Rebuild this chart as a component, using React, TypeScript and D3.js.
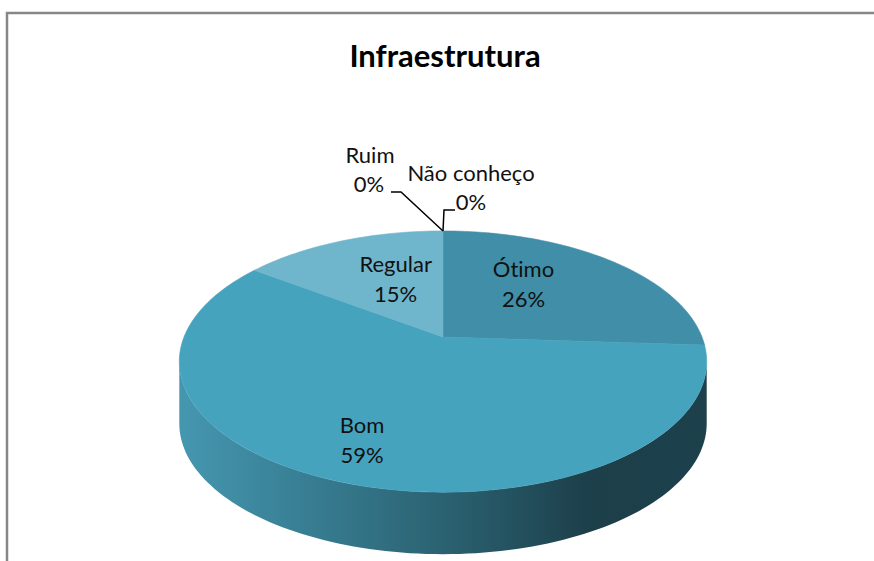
import { useEffect, useRef } from "react";
import * as d3 from "d3";

// Data
const categories = ["Ótimo", "Bom", "Regular", "Ruim", "Não conheço"];
const values = [26, 59, 15, 0, 0];
const title = "Infraestrutura";

const topColors = ["#408ea7", "#46a3bd", "#6fb5cb", "#5a9fc0", "#4f8fa8"];

// Layout of the pie (perspective-tilted disc)
const W = 874;
const H = 561;
const cx = 443;
const cy = 337;
const Rx = 259;
const Ry = 126;
const k = 0.188; // perspective factor (front bigger than back)
const depth = 62;

// label placement: inner labels are given by radius + angle (deg, clockwise from top)
const innerLabels: Record<string, { r: number; a: number }> = {
  "Ótimo": { r: 0.56, a: 37 },
  "Bom": { r: 0.765, a: 200.7 },
  "Regular": { r: 0.533, a: 338 },
};
// outside labels (zero slices) with leader lines, offsets from the apex of the slice
const outerLabels: Record<string, { elbow: [number, number]; end: [number, number]; tx: number; ty: number }> = {
  "Ruim": { elbow: [-42, -39], end: [-52, -39], tx: -73, ty: -68 },
  "Não conheço": { elbow: [1, -21], end: [12, -21], tx: 28, ty: -50 },
};

function proj(a: number, r = 1, drop = 0): [number, number] {
  const u = r * Math.sin(a);
  const v = -r * Math.cos(a);
  const s = 1 / (1 - k * v);
  return [cx + Rx * u * s, cy + Ry * v * s + drop];
}

function arcPoints(a0: number, a1: number, drop = 0): [number, number][] {
  const n = Math.max(2, Math.ceil(((a1 - a0) / (Math.PI * 2)) * 240));
  return d3.range(n + 1).map((i) => proj(a0 + ((a1 - a0) * i) / n, 1, drop));
}

export default function App() {
  const ref = useRef<SVGSVGElement>(null);

  useEffect(() => {
    const svg = d3.select(ref.current);
    svg.selectAll("*").remove();

    const font = "Lato, 'Open Sans', sans-serif";

    // frame
    svg.append("rect")
      .attr("x", 7).attr("y", 13)
      .attr("width", W + 20).attr("height", H + 20)
      .attr("fill", "white")
      .attr("stroke", "#878787")
      .attr("stroke-width", 2.5);

    // title
    svg.append("text")
      .attr("x", 445).attr("y", 67)
      .attr("text-anchor", "middle")
      .attr("font-family", font)
      .attr("font-weight", "bold")
      .attr("font-size", 31)
      .attr("fill", "#000")
      .text(title);

    const defs = svg.append("defs");
    const grad = defs.append("linearGradient")
      .attr("id", "side-grad")
      .attr("gradientUnits", "userSpaceOnUse")
      .attr("x1", cx - Rx * 1.02).attr("y1", 0)
      .attr("x2", cx + Rx * 1.02).attr("y2", 0);
    [
      [0, "#4597b0"],
      [0.2, "#3a8298"],
      [0.5, "#2b6272"],
      [0.78, "#1c3f4a"],
      [1, "#1d414c"],
    ].forEach(([o, c]) => grad.append("stop").attr("offset", o as number).attr("stop-color", c as string));

    const pie = d3.pie<number>().sort(null).value((d) => d)(values);

    // side wall of the front half
    const sideA0 = Math.PI / 2 + Math.asin(k);
    const sideA1 = (3 * Math.PI) / 2 - Math.asin(k);
    const topEdge = arcPoints(sideA0, sideA1, 0);
    const botEdge = arcPoints(sideA0, sideA1, depth).reverse();
    const line = d3.line<[number, number]>().curve(d3.curveLinear);
    svg.append("path")
      .attr("d", line([...topEdge, ...botEdge]) + "Z")
      .attr("fill", "url(#side-grad)");

    // tops
    pie.forEach((p, i) => {
      if (p.endAngle - p.startAngle <= 0) return;
      const pts: [number, number][] = [[cx, cy], ...arcPoints(p.startAngle, p.endAngle, 0)];
      svg.append("path")
        .attr("d", line(pts) + "Z")
        .attr("fill", topColors[i])
        .attr("stroke", topColors[i])
        .attr("stroke-width", 0.6);
    });

    // labels
    const total = d3.sum(values);
    const labelText = () =>
      svg.append("text")
        .attr("font-family", font)
        .attr("font-size", 22)
        .attr("fill", "#111")
        .attr("text-anchor", "middle")
        .style("font-variant-ligatures", "none");

    pie.forEach((p, i) => {
      const name = categories[i];
      const pct = Math.round((values[i] / total) * 100) + "%";
      const inner = innerLabels[name];
      if (inner) {
        const [x, y] = proj((inner.a * Math.PI) / 180, inner.r);
        const t = labelText();
        t.append("tspan").attr("x", x).attr("y", y - 8).text(name);
        t.append("tspan").attr("x", x).attr("y", y + 22).text(pct);
        return;
      }
      const outer = outerLabels[name];
      if (!outer) return;
      const [ax, ay] = proj(p.startAngle, 1);
      svg.append("path")
        .attr("d", line([
          [ax, ay],
          [ax + outer.elbow[0], ay + outer.elbow[1]],
          [ax + outer.end[0], ay + outer.end[1]],
        ]))
        .attr("fill", "none")
        .attr("stroke", "#000")
        .attr("stroke-width", 1.5);
      const t = labelText();
      t.append("tspan").attr("x", ax + outer.tx).attr("y", ay + outer.ty).text(name);
      t.append("tspan").attr("x", ax + outer.tx - (name === "Ruim" ? 1 : 0)).attr("y", ay + outer.ty + 29).text(pct);
    });
  }, []);

  return (
    <svg
      ref={ref}
      width={W}
      height={H}
      style={{ position: "absolute", left: 0, top: 0, display: "block", background: "white" }}
    />
  );
}
